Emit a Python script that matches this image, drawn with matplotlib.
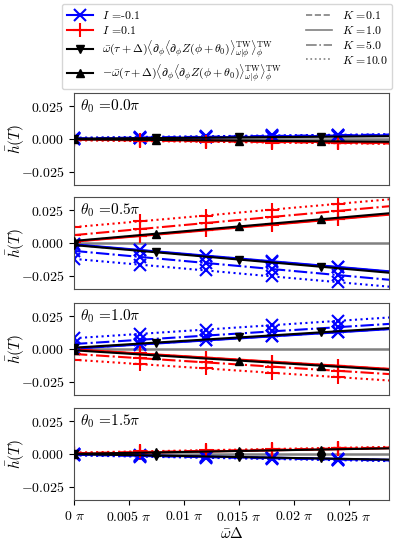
import numpy as np
import matplotlib
matplotlib.use("Agg")
import matplotlib.pyplot as plt
from matplotlib.lines import Line2D

plt.rcParams["font.family"] = "serif"
plt.rcParams["font.serif"] = ["cmr10"]
plt.rcParams["mathtext.fontset"] = "cm"
plt.rcParams["axes.formatter.use_mathtext"] = True
plt.rcParams["font.size"] = 10

THETA0 = [0.0, 0.5, 1.0, 1.5]
K_VALUES = [0.1, 1.0, 5.0, 10.0]
K_STYLES = ["--", "-", "-.", ":"]

# x positions in units of pi
X_MARK = [0.0, 0.006, 0.012, 0.018, 0.024, 0.030]
X_BLACK = [0.0, 0.0075, 0.015, 0.0225, 0.030]

# h(T), I = -0.1 (blue) and I = 0.1 (red), one row per K
h_neg_00 = [[0.0002, 0.0008, 0.0014, 0.0020, 0.0026, 0.0032],
            [0.0000, 0.0006, 0.0012, 0.0018, 0.0024, 0.0030],
            [0.0005, 0.0011, 0.0017, 0.0023, 0.0029, 0.0035],
            [0.0010, 0.0016, 0.0021, 0.0027, 0.0032, 0.0038]]
h_pos_00 = [[-0.0002, -0.0008, -0.0014, -0.0020, -0.0026, -0.0032],
            [0.0000, -0.0006, -0.0012, -0.0018, -0.0024, -0.0030],
            [-0.0005, -0.0011, -0.0017, -0.0023, -0.0029, -0.0035],
            [-0.0010, -0.0016, -0.0021, -0.0027, -0.0032, -0.0038]]
down_00 = [0.0002, 0.0007, 0.0012, 0.0017, 0.0022]
up_00 = [-0.0002, -0.0007, -0.0012, -0.0017, -0.0022]

h_neg_05 = [[-0.0013, -0.0056, -0.0099, -0.0142, -0.0185, -0.0228],
            [-0.0010, -0.0053, -0.0096, -0.0139, -0.0182, -0.0225],
            [-0.0060, -0.0106, -0.0152, -0.0198, -0.0244, -0.0290],
            [-0.0121, -0.0165, -0.0209, -0.0254, -0.0298, -0.0342]]
h_pos_05 = [[0.0013, 0.0056, 0.0099, 0.0142, 0.0185, 0.0228],
            [0.0010, 0.0053, 0.0096, 0.0139, 0.0182, 0.0225],
            [0.0060, 0.0106, 0.0152, 0.0198, 0.0244, 0.0290],
            [0.0121, 0.0165, 0.0209, 0.0254, 0.0298, 0.0342]]
down_05 = [-0.0016, -0.0071, -0.0126, -0.0181, -0.0236]
up_05 = [0.0016, 0.0071, 0.0126, 0.0181, 0.0236]

h_neg_10 = [[0.0005, 0.0036, 0.0067, 0.0098, 0.0129, 0.0160],
            [0.0003, 0.0034, 0.0065, 0.0096, 0.0127, 0.0158],
            [0.0038, 0.0070, 0.0102, 0.0134, 0.0166, 0.0198],
            [0.0082, 0.0115, 0.0148, 0.0181, 0.0214, 0.0247]]
h_pos_10 = [[-0.0005, -0.0036, -0.0067, -0.0098, -0.0129, -0.0160],
            [-0.0003, -0.0034, -0.0065, -0.0096, -0.0127, -0.0158],
            [-0.0038, -0.0070, -0.0102, -0.0134, -0.0166, -0.0198],
            [-0.0082, -0.0115, -0.0148, -0.0181, -0.0214, -0.0247]]
down_10 = [0.0010, 0.0049, 0.0088, 0.0127, 0.0166]
up_10 = [-0.0010, -0.0049, -0.0088, -0.0127, -0.0166]

h_neg_15 = [[-0.0003, -0.0012, -0.0021, -0.0030, -0.0039, -0.0048],
            [-0.0001, -0.0010, -0.0019, -0.0028, -0.0037, -0.0046],
            [-0.0006, -0.0015, -0.0024, -0.0033, -0.0042, -0.0051],
            [-0.0011, -0.0020, -0.0029, -0.0038, -0.0047, -0.0056]]
h_pos_15 = [[0.0003, 0.0012, 0.0021, 0.0030, 0.0039, 0.0048],
            [0.0001, 0.0010, 0.0019, 0.0028, 0.0037, 0.0046],
            [0.0006, 0.0015, 0.0024, 0.0033, 0.0042, 0.0051],
            [0.0011, 0.0020, 0.0029, 0.0038, 0.0047, 0.0056]]
down_15 = [-0.0001, -0.0012, -0.0023, -0.0034, -0.0045]
up_15 = [0.0001, 0.0012, 0.0023, 0.0034, 0.0045]

PANELS = [
    (h_neg_00, h_pos_00, down_00, up_00),
    (h_neg_05, h_pos_05, down_05, up_05),
    (h_neg_10, h_pos_10, down_10, up_10),
    (h_neg_15, h_pos_15, down_15, up_15),
]

X_TICKS = [0, 0.005, 0.01, 0.015, 0.02, 0.025]
Y_TICKS = [-0.025, 0.0, 0.025]
Y_TICKLABELS = ["$-0.025$", "$0.000$", "$0.025$"]

BAR_TEX = (r"\bar{\omega}(\tau+\Delta)\langle\partial_\phi\langle\partial_\phi "
           r"Z(\phi+\theta_0)\rangle^{\rm TW}_{\omega|\phi}\rangle^{\rm TW}_\phi")


def main():
    W, H = 399, 544
    fig = plt.figure(figsize=(W / 100, H / 100), dpi=100)

    left, right = 74, 389
    tops = [93, 197, 303, 408]
    hpx = 92

    xm = np.array(X_MARK) * np.pi
    xb = np.array(X_BLACK) * np.pi

    axes = []
    for i, (theta, (hn, hp, dn, up)) in enumerate(zip(THETA0, PANELS)):
        ax = fig.add_axes([left / W, 1 - (tops[i] + hpx) / H,
                           (right - left) / W, hpx / H])
        axes.append(ax)

        ax.axhline(0, color="gray", lw=1.8, zorder=1)
        for k, ls in enumerate(K_STYLES):
            ax.plot(xm, hn[k], color="blue", ls=ls, lw=1.5, marker="x",
                    ms=8, mew=1.5, markevery=slice(0, 5), zorder=2)
            ax.plot(xm, hp[k], color="red", ls=ls, lw=1.5, marker="+",
                    ms=10, mew=1.5, markevery=slice(0, 5), zorder=2)
        ax.plot(xb, dn, color="black", lw=1.5, marker="v", ms=5.5,
                markevery=slice(0, 4), zorder=3)
        ax.plot(xb, up, color="black", lw=1.5, marker="^", ms=5.5,
                markevery=slice(0, 4), zorder=3)

        ax.set_xlim(0, 0.09)
        ax.set_ylim(-0.035, 0.035)
        ax.set_yticks(Y_TICKS)
        ax.set_yticklabels(Y_TICKLABELS)
        ax.set_xticks(np.array(X_TICKS) * np.pi)
        if i == 3:
            ax.set_xticklabels([f"${v:g}\\ \\pi$" for v in X_TICKS])
            ax.set_xlabel(r"$\bar{\omega}\Delta$", fontsize=11, labelpad=2)
        else:
            ax.set_xticklabels([])
            ax.tick_params(axis="x", length=0)
        ax.set_ylabel(r"$\bar{h}(T)$", fontsize=11)
        ax.yaxis.set_label_coords(-0.15, 0.5)
        for sp in ax.spines.values():
            sp.set_color("0.3")
        ax.text(0.02, 0.95, rf"$\theta_0$ ={theta:.1f}$\pi$",
                transform=ax.transAxes, va="top", ha="left", fontsize=11)

    handles = [
        Line2D([], [], color="blue", marker="x", ms=8, mew=1.5, lw=1.5),
        Line2D([], [], color="red", marker="+", ms=10, mew=1.5, lw=1.5),
        Line2D([], [], color="black", marker="v", ms=5.5, lw=1.5),
        Line2D([], [], color="black", marker="^", ms=5.5, lw=1.5),
    ]
    labels = ["$I$ =-0.1", "$I$ =0.1", "$" + BAR_TEX + "$", "$-" + BAR_TEX + "$"]
    for k, ls in zip(K_VALUES, K_STYLES):
        handles.append(Line2D([], [], color="gray", ls=ls, lw=1.2))
        labels.append(f"$K$ ={k:.1f}")

    fig.legend(handles, labels, ncol=2, loc="lower left", mode="expand",
               bbox_to_anchor=(62 / W, 1 - 89 / H, 330 / W, 84 / H),
               fontsize=8.5, labelspacing=0.25, handlelength=2.2,
               borderaxespad=0.0, borderpad=0.4)

    fig.savefig("out.png", dpi=100)


if __name__ == "__main__":
    main()
